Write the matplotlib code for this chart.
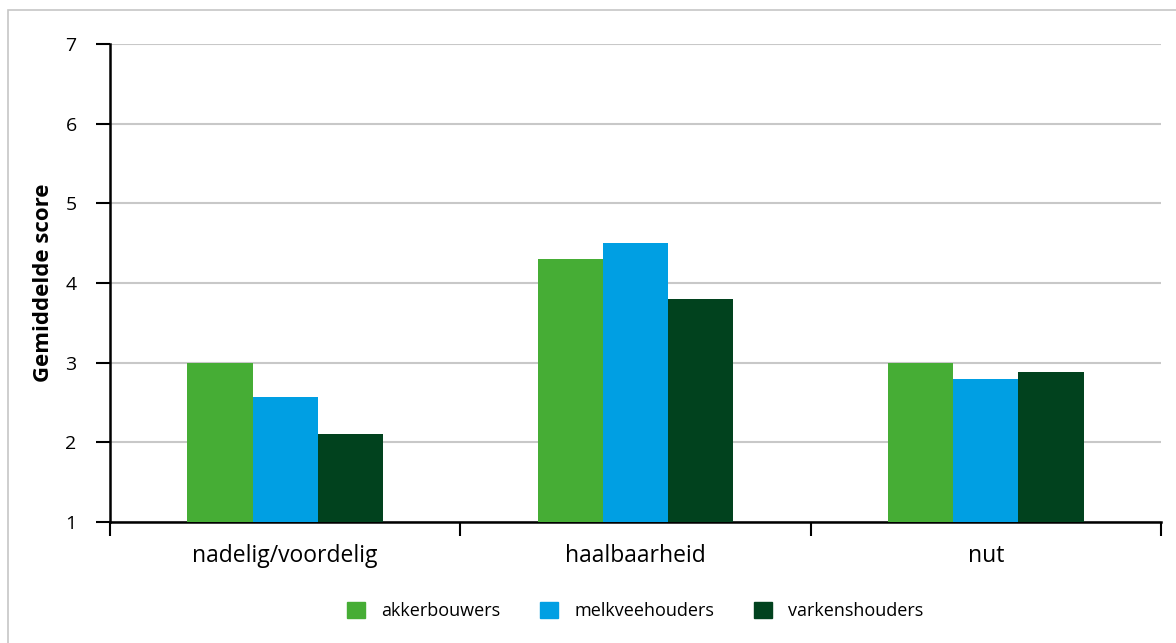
import matplotlib
matplotlib.use("Agg")
import matplotlib.pyplot as plt
import matplotlib.patches as mpatches
import numpy as np

categories = ["nadelig/voordelig", "haalbaarheid", "nut"]
series_names = ["akkerbouwers", "melkveehouders", "varkenshouders"]
akkerbouwers = [3.0, 4.3, 3.0]
melkveehouders = [2.57, 4.5, 2.8]
varkenshouders = [2.1, 3.8, 2.88]
colors = ["#46ad35", "#009fe3", "#01421e"]
yticks = [1, 2, 3, 4, 5, 6, 7]

plt.rcParams['font.family'] = ['Open Sans', 'DejaVu Sans']

fig = plt.figure(figsize=(11.76, 6.43), dpi=100)
ax = fig.add_axes([110/1176, 1-522/643, (1161-110)/1176, (522-44)/643])

# outer frame
fig.patches.append(mpatches.Rectangle((8/1176, -0.1), 1.2, 1 - 10/643 + 0.1,
                                      transform=fig.transFigure, fill=False,
                                      edgecolor="#c6c6c6", linewidth=1.2))

x = np.arange(len(categories))
w = 0.186
data = [akkerbouwers, melkveehouders, varkenshouders]
for i, (vals, c, n) in enumerate(zip(data, colors, series_names)):
    ax.bar(x + (i - 1) * w, np.array(vals) - 1, bottom=1, width=w, color=c,
           label=n, zorder=3, linewidth=0)

ax.set_xlim(-0.5, len(categories) - 0.5)
ax.set_ylim(1, 7)
ax.set_yticks(yticks)
ax.set_yticklabels([str(t) for t in yticks], fontsize=14)
ax.yaxis.grid(True, color="#c8c8c8", linewidth=1.5, zorder=0)
ax.set_axisbelow(True)

ax.set_xticks(np.arange(-0.5, len(categories), 1.0))
ax.set_xticklabels([])
ax.set_xticks(x, minor=True)
ax.set_xticklabels(categories, minor=True, fontsize=16.5)
ax.tick_params(axis='x', which='minor', length=0, pad=16)
ax.tick_params(axis='x', which='major', length=10, width=1.5, direction='out')
ax.tick_params(axis='y', length=10, width=1.5, direction='out', pad=14)

for s in ["top", "right"]:
    ax.spines[s].set_visible(False)
ax.spines["left"].set_linewidth(1.8)
ax.spines["bottom"].set_linewidth(1.8)

ax.set_ylabel("Gemiddelde score", fontsize=16, fontweight='bold', labelpad=8)

handles = [mpatches.Patch(color=c) for c in colors]
fig.legend(handles, series_names, loc='center', bbox_to_anchor=(0.54, 1-611/643),
           ncol=3, frameon=False, fontsize=13, handlelength=1.0, handleheight=1.0,
           columnspacing=2.2, handletextpad=0.9)

fig.savefig("out.png", dpi=100)
